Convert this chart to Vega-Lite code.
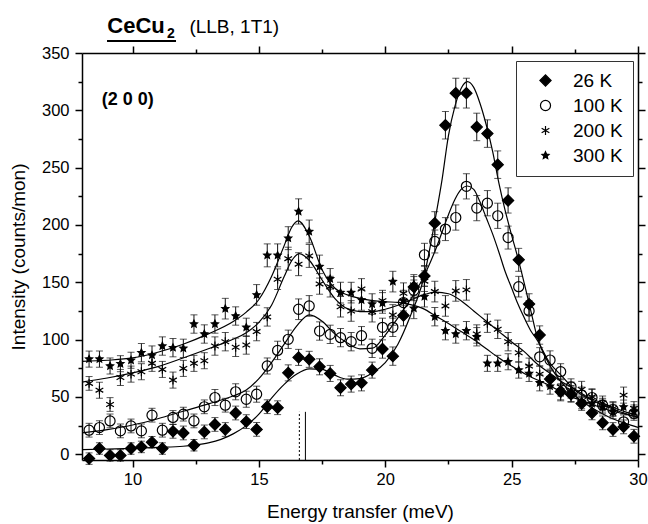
{
  "$schema": "https://vega.github.io/schema/vega-lite/v6.json",
  "width": 556,
  "height": 407,
  "autosize": {"type": "none"},
  "padding": {"left": 82, "top": 53, "right": 10, "bottom": 64},
  "background": "white",
  "config": {
    "view": {"stroke": null},
    "axis": {"domainColor": "black", "domainWidth": 1.5, "tickColor": "black", "tickWidth": 1.5, "labelColor": "black", "labelFont": "Liberation Sans", "labelFontSize": 16.5, "titleFont": "Liberation Sans", "titleFontSize": 19, "titleFontWeight": "normal", "titleColor": "black", "grid": false},
    "legend": {"labelFont": "Liberation Sans"},
    "text": {"font": "Liberation Sans", "color": "black"}
  },
  "datasets": {
    "fit": [
      {"s":"26 K","x":8,"y":4},{"s":"26 K","x":9,"y":4.6},{"s":"26 K","x":10,"y":5.2},{"s":"26 K","x":11,"y":6},{"s":"26 K","x":12,"y":7},{"s":"26 K","x":12.5,"y":8.2},{"s":"26 K","x":13,"y":10},{"s":"26 K","x":13.5,"y":13},{"s":"26 K","x":14,"y":18},{"s":"26 K","x":14.5,"y":25},{"s":"26 K","x":15,"y":35},{"s":"26 K","x":15.5,"y":49},{"s":"26 K","x":16,"y":61},{"s":"26 K","x":16.5,"y":70},{"s":"26 K","x":17,"y":74.5},{"s":"26 K","x":17.5,"y":74},{"s":"26 K","x":18,"y":69},{"s":"26 K","x":18.5,"y":65.5},{"s":"26 K","x":19,"y":66},{"s":"26 K","x":19.5,"y":71},{"s":"26 K","x":20,"y":80},{"s":"26 K","x":20.5,"y":96},{"s":"26 K","x":21,"y":121},{"s":"26 K","x":21.5,"y":152},{"s":"26 K","x":22,"y":208},{"s":"26 K","x":22.25,"y":240},{"s":"26 K","x":22.5,"y":278},{"s":"26 K","x":22.75,"y":303},{"s":"26 K","x":23,"y":319},{"s":"26 K","x":23.25,"y":325},{"s":"26 K","x":23.5,"y":320},{"s":"26 K","x":23.75,"y":306},{"s":"26 K","x":24,"y":287},{"s":"26 K","x":24.25,"y":264},{"s":"26 K","x":24.5,"y":236},{"s":"26 K","x":24.75,"y":212},{"s":"26 K","x":25,"y":191},{"s":"26 K","x":25.25,"y":171},{"s":"26 K","x":25.5,"y":149},{"s":"26 K","x":25.75,"y":126},{"s":"26 K","x":26,"y":103},{"s":"26 K","x":26.5,"y":78},{"s":"26 K","x":27,"y":62},{"s":"26 K","x":27.5,"y":51},{"s":"26 K","x":28,"y":43},{"s":"26 K","x":28.5,"y":36.5},{"s":"26 K","x":29,"y":31},{"s":"26 K","x":29.5,"y":27},{"s":"26 K","x":30,"y":23.5},
      {"s":"100 K","x":8,"y":18.6},{"s":"100 K","x":9,"y":21.5},{"s":"100 K","x":10,"y":25.5},{"s":"100 K","x":11,"y":31},{"s":"100 K","x":12,"y":37.5},{"s":"100 K","x":13,"y":44},{"s":"100 K","x":14,"y":51},{"s":"100 K","x":14.5,"y":56},{"s":"100 K","x":15,"y":66},{"s":"100 K","x":15.5,"y":80},{"s":"100 K","x":16,"y":96},{"s":"100 K","x":16.5,"y":112},{"s":"100 K","x":17,"y":121.5},{"s":"100 K","x":17.5,"y":116},{"s":"100 K","x":18,"y":105},{"s":"100 K","x":18.5,"y":97},{"s":"100 K","x":19,"y":92},{"s":"100 K","x":19.5,"y":92.5},{"s":"100 K","x":20,"y":104},{"s":"100 K","x":20.5,"y":119},{"s":"100 K","x":21,"y":135},{"s":"100 K","x":21.5,"y":154},{"s":"100 K","x":22,"y":179},{"s":"100 K","x":22.5,"y":209},{"s":"100 K","x":22.75,"y":222},{"s":"100 K","x":23,"y":231},{"s":"100 K","x":23.25,"y":234},{"s":"100 K","x":23.5,"y":231},{"s":"100 K","x":23.75,"y":220},{"s":"100 K","x":24,"y":206},{"s":"100 K","x":24.25,"y":192},{"s":"100 K","x":24.5,"y":176},{"s":"100 K","x":24.75,"y":159},{"s":"100 K","x":25,"y":145},{"s":"100 K","x":25.25,"y":131},{"s":"100 K","x":25.5,"y":119},{"s":"100 K","x":25.75,"y":108},{"s":"100 K","x":26,"y":100},{"s":"100 K","x":26.5,"y":80},{"s":"100 K","x":27,"y":68},{"s":"100 K","x":27.5,"y":56},{"s":"100 K","x":28,"y":49},{"s":"100 K","x":28.5,"y":44},{"s":"100 K","x":29,"y":39.5},{"s":"100 K","x":29.5,"y":35.5},{"s":"100 K","x":30,"y":32},
      {"s":"200 K","x":8,"y":63},{"s":"200 K","x":9,"y":66.5},{"s":"200 K","x":10,"y":71},{"s":"200 K","x":11,"y":76.5},{"s":"200 K","x":12,"y":84},{"s":"200 K","x":13,"y":92},{"s":"200 K","x":14,"y":100.5},{"s":"200 K","x":14.5,"y":106},{"s":"200 K","x":15,"y":115},{"s":"200 K","x":15.5,"y":130},{"s":"200 K","x":16,"y":155},{"s":"200 K","x":16.3,"y":169},{"s":"200 K","x":16.6,"y":175},{"s":"200 K","x":17,"y":169},{"s":"200 K","x":17.5,"y":152},{"s":"200 K","x":18,"y":136},{"s":"200 K","x":18.5,"y":127},{"s":"200 K","x":19,"y":124.5},{"s":"200 K","x":19.5,"y":124.5},{"s":"200 K","x":20,"y":126.5},{"s":"200 K","x":20.5,"y":130},{"s":"200 K","x":21,"y":134.5},{"s":"200 K","x":21.5,"y":139},{"s":"200 K","x":22,"y":141.5},{"s":"200 K","x":22.5,"y":140},{"s":"200 K","x":23,"y":134},{"s":"200 K","x":23.5,"y":125},{"s":"200 K","x":24,"y":116},{"s":"200 K","x":24.5,"y":107},{"s":"200 K","x":25,"y":98},{"s":"200 K","x":25.5,"y":89.5},{"s":"200 K","x":26,"y":79},{"s":"200 K","x":26.5,"y":71},{"s":"200 K","x":27,"y":63},{"s":"200 K","x":27.5,"y":57},{"s":"200 K","x":28,"y":50},{"s":"200 K","x":28.5,"y":45.5},{"s":"200 K","x":29,"y":41},{"s":"200 K","x":29.5,"y":37},{"s":"200 K","x":30,"y":34},
      {"s":"300 K","x":8,"y":81},{"s":"300 K","x":9,"y":82},{"s":"300 K","x":10,"y":84},{"s":"300 K","x":11,"y":89},{"s":"300 K","x":12,"y":96},{"s":"300 K","x":13,"y":105},{"s":"300 K","x":14,"y":116},{"s":"300 K","x":14.5,"y":124},{"s":"300 K","x":15,"y":135},{"s":"300 K","x":15.5,"y":155},{"s":"300 K","x":16,"y":182},{"s":"300 K","x":16.3,"y":198},{"s":"300 K","x":16.55,"y":203.5},{"s":"300 K","x":17,"y":190},{"s":"300 K","x":17.5,"y":161},{"s":"300 K","x":18,"y":145},{"s":"300 K","x":18.5,"y":139},{"s":"300 K","x":19,"y":136},{"s":"300 K","x":19.5,"y":134},{"s":"300 K","x":20,"y":133},{"s":"300 K","x":20.5,"y":132.5},{"s":"300 K","x":21,"y":130.5},{"s":"300 K","x":21.5,"y":127},{"s":"300 K","x":22,"y":120.5},{"s":"300 K","x":22.5,"y":114},{"s":"300 K","x":23,"y":107},{"s":"300 K","x":23.5,"y":100},{"s":"300 K","x":24,"y":92},{"s":"300 K","x":24.5,"y":84},{"s":"300 K","x":25,"y":77},{"s":"300 K","x":25.5,"y":70.5},{"s":"300 K","x":26,"y":65},{"s":"300 K","x":26.5,"y":60},{"s":"300 K","x":27,"y":54},{"s":"300 K","x":27.5,"y":49},{"s":"300 K","x":28,"y":45},{"s":"300 K","x":28.5,"y":41},{"s":"300 K","x":29,"y":37.5},{"s":"300 K","x":29.5,"y":35},{"s":"300 K","x":30,"y":32.5}
    ],
    "pts": [
      {"s":"26 K","x":8.28,"y":-3.8,"e":5},{"s":"26 K","x":8.69,"y":5,"e":5},{"s":"26 K","x":9.11,"y":-1,"e":5},{"s":"26 K","x":9.52,"y":-1,"e":5},{"s":"26 K","x":9.94,"y":5,"e":5},{"s":"26 K","x":10.35,"y":6.4,"e":5},{"s":"26 K","x":10.77,"y":10.5,"e":5},{"s":"26 K","x":11.18,"y":5,"e":5},{"s":"26 K","x":11.6,"y":20,"e":6},{"s":"26 K","x":12.01,"y":18.6,"e":6},{"s":"26 K","x":12.43,"y":7.9,"e":5},{"s":"26 K","x":12.84,"y":19.5,"e":6},{"s":"26 K","x":13.26,"y":26,"e":6},{"s":"26 K","x":13.67,"y":21.6,"e":6},{"s":"26 K","x":14.08,"y":36,"e":6},{"s":"26 K","x":14.5,"y":28.5,"e":6},{"s":"26 K","x":14.91,"y":21.7,"e":6},{"s":"26 K","x":15.33,"y":41.5,"e":6},{"s":"26 K","x":15.74,"y":40.6,"e":6},{"s":"26 K","x":16.16,"y":71,"e":7},{"s":"26 K","x":16.57,"y":84.5,"e":7},{"s":"26 K","x":16.99,"y":82.8,"e":7},{"s":"26 K","x":17.4,"y":76.3,"e":7},{"s":"26 K","x":17.82,"y":70.5,"e":7},{"s":"26 K","x":18.23,"y":58,"e":7},{"s":"26 K","x":18.65,"y":61.2,"e":7},{"s":"26 K","x":19.06,"y":62.3,"e":7},{"s":"26 K","x":19.48,"y":73.4,"e":7},{"s":"26 K","x":19.89,"y":91.8,"e":8},{"s":"26 K","x":20.3,"y":85.6,"e":8},{"s":"26 K","x":20.72,"y":121,"e":9},{"s":"26 K","x":21.13,"y":146,"e":9},{"s":"26 K","x":21.55,"y":155.6,"e":9},{"s":"26 K","x":21.96,"y":201.6,"e":10},{"s":"26 K","x":22.38,"y":287,"e":12},{"s":"26 K","x":22.79,"y":315,"e":13},{"s":"26 K","x":23.21,"y":315,"e":13},{"s":"26 K","x":23.62,"y":285.5,"e":12},{"s":"26 K","x":24.04,"y":279.7,"e":12},{"s":"26 K","x":24.45,"y":252.6,"e":12},{"s":"26 K","x":24.86,"y":221.4,"e":11},{"s":"26 K","x":25.28,"y":169.6,"e":10},{"s":"26 K","x":25.69,"y":131,"e":9},{"s":"26 K","x":26.11,"y":104,"e":8},{"s":"26 K","x":26.52,"y":65.6,"e":7},{"s":"26 K","x":26.94,"y":54.5,"e":7},{"s":"26 K","x":27.35,"y":52.4,"e":7},{"s":"26 K","x":27.77,"y":44.3,"e":6},{"s":"26 K","x":28.18,"y":36,"e":6},{"s":"26 K","x":28.6,"y":27.4,"e":6},{"s":"26 K","x":29.01,"y":21.6,"e":6},{"s":"26 K","x":29.43,"y":23.9,"e":6},{"s":"26 K","x":29.84,"y":15.7,"e":6},
      {"s":"100 K","x":8.28,"y":21,"e":6},{"s":"100 K","x":8.69,"y":23.3,"e":6},{"s":"100 K","x":9.11,"y":29.1,"e":6},{"s":"100 K","x":9.52,"y":20.4,"e":6},{"s":"100 K","x":9.94,"y":24.7,"e":6},{"s":"100 K","x":10.35,"y":20.4,"e":6},{"s":"100 K","x":10.77,"y":34.1,"e":6},{"s":"100 K","x":11.18,"y":21,"e":6},{"s":"100 K","x":11.6,"y":32.1,"e":6},{"s":"100 K","x":12.01,"y":35,"e":6},{"s":"100 K","x":12.43,"y":29.1,"e":6},{"s":"100 K","x":12.84,"y":41.4,"e":6},{"s":"100 K","x":13.26,"y":49.5,"e":7},{"s":"100 K","x":13.67,"y":42.8,"e":6},{"s":"100 K","x":14.08,"y":54.5,"e":7},{"s":"100 K","x":14.5,"y":48,"e":7},{"s":"100 K","x":14.91,"y":52.4,"e":7},{"s":"100 K","x":15.33,"y":77,"e":7},{"s":"100 K","x":15.74,"y":90.6,"e":8},{"s":"100 K","x":16.16,"y":100.3,"e":8},{"s":"100 K","x":16.57,"y":126.5,"e":9},{"s":"100 K","x":16.99,"y":129.4,"e":9},{"s":"100 K","x":17.4,"y":107.5,"e":8},{"s":"100 K","x":17.82,"y":104.6,"e":8},{"s":"100 K","x":18.23,"y":101.7,"e":8},{"s":"100 K","x":18.65,"y":98.2,"e":8},{"s":"100 K","x":19.06,"y":103.4,"e":8},{"s":"100 K","x":19.48,"y":92.4,"e":8},{"s":"100 K","x":19.89,"y":110.7,"e":8},{"s":"100 K","x":20.3,"y":110.7,"e":8},{"s":"100 K","x":20.72,"y":132.3,"e":9},{"s":"100 K","x":21.13,"y":143,"e":9},{"s":"100 K","x":21.55,"y":174,"e":10},{"s":"100 K","x":21.96,"y":185.6,"e":10},{"s":"100 K","x":22.38,"y":196.4,"e":10},{"s":"100 K","x":22.79,"y":206.5,"e":11},{"s":"100 K","x":23.21,"y":233.7,"e":11},{"s":"100 K","x":23.62,"y":214.7,"e":11},{"s":"100 K","x":24.04,"y":219,"e":11},{"s":"100 K","x":24.45,"y":208,"e":11},{"s":"100 K","x":24.86,"y":189,"e":10},{"s":"100 K","x":25.28,"y":146.2,"e":9},{"s":"100 K","x":25.69,"y":125,"e":9},{"s":"100 K","x":26.11,"y":85,"e":8},{"s":"100 K","x":26.52,"y":82.2,"e":8},{"s":"100 K","x":26.94,"y":72,"e":7},{"s":"100 K","x":27.35,"y":58.8,"e":7},{"s":"100 K","x":27.77,"y":51.6,"e":7},{"s":"100 K","x":28.18,"y":49.5,"e":7},{"s":"100 K","x":28.6,"y":42.8,"e":6},{"s":"100 K","x":29.01,"y":39,"e":6},{"s":"100 K","x":29.43,"y":28.3,"e":6},{"s":"100 K","x":29.84,"y":35.6,"e":6},
      {"s":"200 K","x":8.28,"y":61.8,"e":6},{"s":"200 K","x":8.69,"y":55.9,"e":7},{"s":"200 K","x":9.11,"y":43.4,"e":6},{"s":"200 K","x":9.52,"y":67,"e":7},{"s":"200 K","x":9.94,"y":69.9,"e":7},{"s":"200 K","x":10.35,"y":72,"e":7},{"s":"200 K","x":10.77,"y":79.3,"e":7},{"s":"200 K","x":11.18,"y":74,"e":7},{"s":"200 K","x":11.6,"y":64.7,"e":7},{"s":"200 K","x":12.01,"y":74.9,"e":7},{"s":"200 K","x":12.43,"y":79.3,"e":7},{"s":"200 K","x":12.84,"y":81.6,"e":7},{"s":"200 K","x":13.26,"y":94.4,"e":8},{"s":"200 K","x":13.67,"y":98.2,"e":8},{"s":"200 K","x":14.08,"y":93.3,"e":8},{"s":"200 K","x":14.5,"y":95.3,"e":8},{"s":"200 K","x":14.91,"y":107,"e":8},{"s":"200 K","x":15.33,"y":119.8,"e":8},{"s":"200 K","x":15.74,"y":152.7,"e":9},{"s":"200 K","x":16.16,"y":170.6,"e":10},{"s":"200 K","x":16.57,"y":165.8,"e":10},{"s":"200 K","x":16.99,"y":173,"e":10},{"s":"200 K","x":17.4,"y":148.6,"e":9},{"s":"200 K","x":17.82,"y":146.2,"e":9},{"s":"200 K","x":18.23,"y":128.7,"e":9},{"s":"200 K","x":18.65,"y":125,"e":9},{"s":"200 K","x":19.06,"y":144.2,"e":9},{"s":"200 K","x":19.48,"y":124.4,"e":9},{"s":"200 K","x":19.89,"y":134,"e":9},{"s":"200 K","x":20.3,"y":121.5,"e":9},{"s":"200 K","x":20.72,"y":140.5,"e":9},{"s":"200 K","x":21.13,"y":147.7,"e":9},{"s":"200 K","x":21.55,"y":151,"e":9},{"s":"200 K","x":21.96,"y":141.9,"e":9},{"s":"200 K","x":22.38,"y":129.4,"e":9},{"s":"200 K","x":22.79,"y":142.5,"e":9},{"s":"200 K","x":23.21,"y":143.4,"e":9},{"s":"200 K","x":23.62,"y":104.9,"e":8},{"s":"200 K","x":24.04,"y":114.3,"e":8},{"s":"200 K","x":24.45,"y":109,"e":8},{"s":"200 K","x":24.86,"y":98.2,"e":8},{"s":"200 K","x":25.28,"y":88.6,"e":8},{"s":"200 K","x":25.69,"y":76.9,"e":7},{"s":"200 K","x":26.11,"y":69.9,"e":7},{"s":"200 K","x":26.52,"y":66.2,"e":7},{"s":"200 K","x":26.94,"y":58.8,"e":7},{"s":"200 K","x":27.35,"y":56,"e":7},{"s":"200 K","x":27.77,"y":56.6,"e":7},{"s":"200 K","x":28.18,"y":50.1,"e":7},{"s":"200 K","x":28.6,"y":44.8,"e":6},{"s":"200 K","x":29.01,"y":39.9,"e":6},{"s":"200 K","x":29.43,"y":51.6,"e":7},{"s":"200 K","x":29.84,"y":39.9,"e":6},
      {"s":"300 K","x":8.28,"y":83,"e":7},{"s":"300 K","x":8.69,"y":83,"e":7},{"s":"300 K","x":9.11,"y":77,"e":7},{"s":"300 K","x":9.52,"y":79,"e":7},{"s":"300 K","x":9.94,"y":82,"e":7},{"s":"300 K","x":10.35,"y":88.6,"e":8},{"s":"300 K","x":10.77,"y":86.5,"e":8},{"s":"300 K","x":11.18,"y":94.4,"e":8},{"s":"300 K","x":11.6,"y":93,"e":8},{"s":"300 K","x":12.01,"y":92.4,"e":8},{"s":"300 K","x":12.43,"y":113.6,"e":8},{"s":"300 K","x":12.84,"y":104.9,"e":8},{"s":"300 K","x":13.26,"y":113.6,"e":8},{"s":"300 K","x":13.67,"y":127,"e":9},{"s":"300 K","x":14.08,"y":120.6,"e":8},{"s":"300 K","x":14.5,"y":110.7,"e":8},{"s":"300 K","x":14.91,"y":139,"e":9},{"s":"300 K","x":15.33,"y":173.5,"e":10},{"s":"300 K","x":15.74,"y":173.5,"e":10},{"s":"300 K","x":16.16,"y":188.5,"e":10},{"s":"300 K","x":16.57,"y":211.8,"e":11},{"s":"300 K","x":16.99,"y":194.3,"e":10},{"s":"300 K","x":17.4,"y":163.7,"e":10},{"s":"300 K","x":17.82,"y":153,"e":9},{"s":"300 K","x":18.23,"y":141,"e":9},{"s":"300 K","x":18.65,"y":141,"e":9},{"s":"300 K","x":19.06,"y":134.6,"e":9},{"s":"300 K","x":19.48,"y":131,"e":9},{"s":"300 K","x":19.89,"y":132,"e":9},{"s":"300 K","x":20.3,"y":150.6,"e":9},{"s":"300 K","x":20.72,"y":134,"e":9},{"s":"300 K","x":21.13,"y":127.3,"e":9},{"s":"300 K","x":21.55,"y":137.5,"e":9},{"s":"300 K","x":21.96,"y":120,"e":8},{"s":"300 K","x":22.38,"y":107.8,"e":8},{"s":"300 K","x":22.79,"y":104.9,"e":8},{"s":"300 K","x":23.21,"y":107.8,"e":8},{"s":"300 K","x":23.62,"y":102.5,"e":8},{"s":"300 K","x":24.04,"y":79.3,"e":7},{"s":"300 K","x":24.45,"y":79.3,"e":7},{"s":"300 K","x":24.86,"y":80.7,"e":7},{"s":"300 K","x":25.28,"y":73.4,"e":7},{"s":"300 K","x":25.69,"y":70.5,"e":7},{"s":"300 K","x":26.11,"y":62.3,"e":7},{"s":"300 K","x":26.52,"y":59.4,"e":7},{"s":"300 K","x":26.94,"y":53.6,"e":7},{"s":"300 K","x":27.35,"y":53,"e":7},{"s":"300 K","x":27.77,"y":45.7,"e":6},{"s":"300 K","x":28.18,"y":44.3,"e":6},{"s":"300 K","x":28.6,"y":41.3,"e":6},{"s":"300 K","x":29.01,"y":37,"e":6},{"s":"300 K","x":29.43,"y":41.3,"e":6},{"s":"300 K","x":29.84,"y":37,"e":6}
    ],
    "marks": [
      {"x":16.6,"y":-5,"y2":37,"kind":"a"},
      {"x":16.84,"y":-5,"y2":37,"kind":"b"}
    ]
  },
  "resolve": {"axis": {"x": "independent", "y": "independent"}},
  "layer": [
    {
      "data": {"name": "fit"},
      "mark": {"type": "line", "color": "black", "strokeWidth": 1.2, "interpolate": "monotone"},
      "encoding": {
        "x": {"field": "x", "type": "quantitative", "scale": {"domain": [8, 30], "nice": false, "zero": false},
              "axis": {"orient": "bottom", "values": [10, 15, 20, 25, 30], "tickSize": 7, "labelPadding": 4, "labelFlush": false, "title": "Energy transfer (meV)", "titleX": 278, "titleY": 57, "titleBaseline": "alphabetic", "titleAlign": "center"}},
        "y": {"field": "y", "type": "quantitative", "scale": {"domain": [-5, 350], "nice": false, "zero": false},
              "axis": {"orient": "left", "values": [0, 50, 100, 150, 200, 250, 300, 350], "tickSize": 7, "labelPadding": 6, "labelFlush": false, "title": "Intensity (counts/mon)", "titleAngle": -90, "titleX": -64, "titleY": 203.5, "titleAlign": "center", "titleBaseline": "middle"}},
        "detail": {"field": "s"}
      }
    },
    {
      "data": {"name": "pts"},
      "mark": {"type": "errorbar", "color": "#111", "thickness": 1, "ticks": {"size": 7, "thickness": 1, "color": "#111"}},
      "encoding": {
        "x": {"field": "x", "type": "quantitative", "axis": {"orient": "bottom", "values": [12.5, 17.5, 22.5, 27.5], "tickSize": 4, "labels": false, "domain": false, "title": null}},
        "y": {"field": "y", "type": "quantitative", "axis": {"orient": "left", "values": [25, 75, 125, 175, 225, 275, 325], "tickSize": 4, "labels": false, "domain": false, "title": null}},
        "yError": {"field": "e"}
      }
    },
    {
      "data": {"name": "pts"},
      "mark": {"type": "point", "stroke": "black", "strokeWidth": 1.2, "opacity": 1, "fillOpacity": 1},
      "encoding": {
        "x": {"field": "x", "type": "quantitative", "axis": {"orient": "top", "values": [10, 15, 20, 25, 30], "tickSize": 7, "labels": false, "title": null}},
        "y": {"field": "y", "type": "quantitative", "axis": {"orient": "right", "values": [0, 50, 100, 150, 200, 250, 300, 350], "tickSize": 7, "labels": false, "title": null}},
        "shape": {"field": "s", "type": "nominal",
                  "scale": {"domain": ["26 K", "100 K", "200 K", "300 K"], "range": ["diamond", "circle", "M0,-1L0,1M-0.87,-0.5L0.87,0.5M-0.87,0.5L0.87,-0.5", "M0,-1L0.28,-0.38L0.95,-0.31L0.45,0.15L0.59,0.81L0,0.47L-0.59,0.81L-0.45,0.15L-0.95,-0.31L-0.28,-0.38Z"]},
                  "legend": {"title": null, "orient": "none", "legendX": 434, "legendY": 8, "strokeColor": "#333", "padding": 10, "symbolOffset": 10, "labelOffset": 18, "rowPadding": 5, "labelFontSize": 19, "labelColor": "black", "symbolStrokeColor": "black", "symbolStrokeWidth": 1.2}},
        "fill": {"field": "s", "type": "nominal", "scale": {"domain": ["26 K", "100 K", "200 K", "300 K"], "range": ["black", "transparent", "transparent", "black"]}},
        "size": {"field": "s", "type": "nominal", "scale": {"domain": ["26 K", "100 K", "200 K", "300 K"], "range": [125, 55, 110, 150]}}
      }
    },
    {
      "data": {"name": "marks"},
      "mark": {"type": "rule", "color": "black", "strokeWidth": 1},
      "encoding": {
        "x": {"field": "x", "type": "quantitative", "axis": {"orient": "top", "values": [12.5, 17.5, 22.5, 27.5], "tickSize": 4, "labels": false, "domain": false, "title": null}},
        "y": {"field": "y", "type": "quantitative", "axis": {"orient": "right", "values": [25, 75, 125, 175, 225, 275, 325], "tickSize": 4, "labels": false, "domain": false, "title": null}},
        "y2": {"field": "y2"},
        "strokeDash": {"field": "kind", "type": "nominal", "scale": {"domain": ["a", "b"], "range": [[2, 2], [1, 0]]}, "legend": null}
      }
    },
    {
      "data": {"values": [{}]},
      "mark": {"type": "text", "text": "(2 0 0)", "fontSize": 18, "fontWeight": "bold", "align": "left", "baseline": "middle"},
      "encoding": {
        "x": {"datum": 8.78, "type": "quantitative", "axis": null},
        "y": {"datum": 308.6, "type": "quantitative", "axis": null}
      }
    },
    {
      "data": {"values": [{}]},
      "mark": {"type": "text", "text": "CeCu", "fontSize": 22, "fontWeight": "bold", "align": "left", "baseline": "alphabetic"},
      "encoding": {
        "x": {"datum": 9.0, "type": "quantitative", "axis": null},
        "y": {"datum": 367.2, "type": "quantitative", "axis": null}
      }
    },
    {
      "data": {"values": [{}]},
      "mark": {"type": "text", "text": "2", "fontSize": 14, "fontWeight": "bold", "align": "left", "baseline": "alphabetic"},
      "encoding": {
        "x": {"datum": 11.36, "type": "quantitative", "axis": null},
        "y": {"datum": 362.8, "type": "quantitative", "axis": null}
      }
    },
    {
      "data": {"values": [{}]},
      "mark": {"type": "rule", "color": "black", "strokeWidth": 2},
      "encoding": {
        "x": {"datum": 8.99, "type": "quantitative", "axis": null},
        "x2": {"datum": 11.72},
        "y": {"datum": 360.5, "type": "quantitative", "axis": null}
      }
    },
    {
      "data": {"values": [{}]},
      "mark": {"type": "text", "text": "(LLB, 1T1)", "fontSize": 19, "align": "left", "baseline": "alphabetic"},
      "encoding": {
        "x": {"datum": 12.25, "type": "quantitative", "axis": null},
        "y": {"datum": 367.2, "type": "quantitative", "axis": null}
      }
    }
  ]
}
